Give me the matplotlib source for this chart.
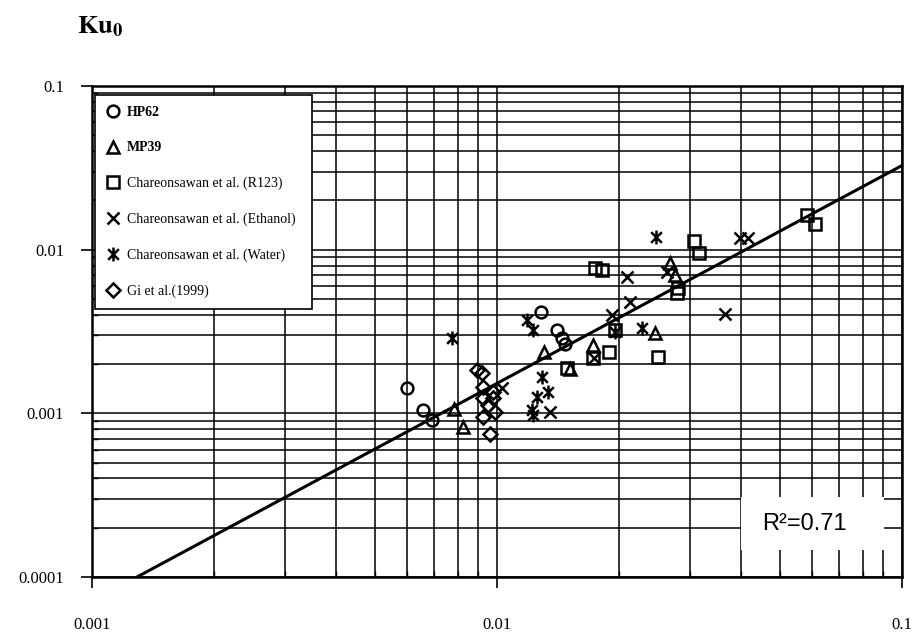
#!/usr/bin/env python3
"""Ku0 comparison: measured data vs correlation, log-log."""

import matplotlib
matplotlib.use("Agg")
import matplotlib.pyplot as plt
import numpy as np
from matplotlib.patches import Rectangle
from matplotlib.path import Path
from matplotlib.ticker import FixedLocator, FixedFormatter, NullFormatter

plt.rcParams["mathtext.fontset"] = "stix"

# --- data ---
hp62_x = [0.00600, 0.00657, 0.00691, 0.01284, 0.01406, 0.01447, 0.01472]
hp62_y = [0.001423, 0.001043, 0.000906, 0.004165, 0.003229, 0.002885, 0.002651]

mp39_x = [0.00783, 0.00824, 0.01306, 0.01514, 0.01726, 0.02455, 0.02674, 0.02751]
mp39_y = [0.001058, 0.000820, 0.002366, 0.001862, 0.002614, 0.003096, 0.008321, 0.007025]

r123_x = [0.01489, 0.01746, 0.01817, 0.01956, 0.01890, 0.01726, 0.02496,
          0.02798, 0.02782, 0.03064, 0.03153, 0.05827, 0.06099]
r123_y = [0.001888, 0.007756, 0.007540, 0.003229, 0.002366, 0.002175, 0.002206,
          0.005845, 0.005448, 0.01135, 0.009585, 0.01640, 0.01443]

ethanol_x = [0.01029, 0.01352, 0.01736, 0.01923, 0.02094, 0.02130, 0.02629,
             0.03656, 0.03981, 0.04167]
ethanol_y = [0.001423, 0.001014, 0.002175, 0.003993, 0.006830, 0.004797, 0.007328,
             0.004050, 0.01185, 0.01185]

water_x = [0.00774, 0.01186, 0.01227, 0.01291, 0.01336, 0.01256, 0.01220,
           0.01227, 0.01956, 0.02280, 0.02469]
water_y = [0.002885, 0.003721, 0.003229, 0.001663, 0.001345, 0.001253, 0.001043,
           0.000972, 0.003140, 0.003322, 0.01202]

gi_x = [0.00893, 0.00918, 0.00923, 0.00977, 0.00923, 0.00977, 0.00950,
        0.00989, 0.00923, 0.00961]
gi_y = [0.001835, 0.001759, 0.001443, 0.001345, 0.001236, 0.001236, 0.001120,
        0.001014, 0.000945, 0.000743]

# correlation line Ku0 = a * x^b
fit_a = 0.70
fit_b = 1.331
r2_text = "R\u00b2=0.71"

xtick_vals = [0.001, 0.01, 0.1]
xtick_labels = ["0.001", "0.01", "0.1"]
ytick_vals = [0.0001, 0.001, 0.01, 0.1]
ytick_labels = ["0.0001", "0.001", "0.01", "0.1"]

labels = ["HP62", "MP39", "Chareonsawan et al. (R123)",
          "Chareonsawan et al. (Ethanol)", "Chareonsawan et al. (Water)",
          "Gi et al.(1999)"]

# X with a vertical bar (spreadsheet "star" marker)
M, L = Path.MOVETO, Path.LINETO
star_marker = Path([(-1, -1), (1, 1), (-1, 1), (1, -1), (0, -1.3), (0, 1.3)],
                   [M, L, M, L, M, L])

fig = plt.figure(figsize=(9.16, 6.37), dpi=100)
ax = fig.add_axes([92 / 916, 60 / 637, 810 / 916, 491 / 637])
ax.set_xscale("log")
ax.set_yscale("log")
ax.set_xlim(1e-3, 1e-1)
ax.set_ylim(1e-4, 1e-1)

style = dict(linestyle="none", mfc="none", mec="black", mew=1.8, zorder=4)
ax.plot(hp62_x, hp62_y, marker="o", ms=8.5, label=labels[0], **style)
ax.plot(mp39_x, mp39_y, marker="^", ms=8.5, label=labels[1], **style)
ax.plot(r123_x, r123_y, marker="s", ms=8, label=labels[2], **style)
ax.plot(ethanol_x, ethanol_y, marker="x", ms=9, label=labels[3], **style)
ax.plot(water_x, water_y, marker=star_marker, ms=10, label=labels[4], **style)
ax.plot(gi_x, gi_y, marker="D", ms=7, label=labels[5], **style)

xf = np.logspace(-3, -1, 100)
ax.plot(xf, fit_a * xf ** fit_b, color="black", lw=2.2, zorder=3)

ax.grid(True, which="both", color="black", lw=1.1)
ax.set_axisbelow(True)
for sp in ax.spines.values():
    sp.set_linewidth(1.8)

ax.xaxis.set_major_locator(FixedLocator(xtick_vals))
ax.xaxis.set_major_formatter(FixedFormatter(xtick_labels))
ax.yaxis.set_major_locator(FixedLocator(ytick_vals))
ax.yaxis.set_major_formatter(FixedFormatter(ytick_labels))
ax.xaxis.set_minor_formatter(NullFormatter())
ax.yaxis.set_minor_formatter(NullFormatter())
ax.tick_params(axis="x", which="major", direction="out", length=8, pad=21,
               labelsize=12, width=1.2)
ax.tick_params(axis="y", which="major", direction="out", length=8, pad=12,
               labelsize=12, width=1.2)
ax.tick_params(which="minor", direction="in", length=4, width=1.0)
for lab in ax.get_xticklabels() + ax.get_yticklabels():
    lab.set_family("Liberation Serif")

# R^2 box
ax.add_patch(Rectangle((0.801, 0.055), 0.177, 0.108, transform=ax.transAxes,
                       facecolor="white", edgecolor="none", zorder=2.5))
ax.text(0.880, 0.108, r2_text, transform=ax.transAxes, ha="center", va="center",
        fontsize=17, family="Liberation Sans", zorder=5)

leg = ax.legend(loc="upper left", bbox_to_anchor=(0.004, 0.0, 0.267, 0.982),
                mode="expand", borderaxespad=0, fancybox=False, framealpha=1,
                edgecolor="black", prop={"family": "Liberation Serif", "size": 10},
                labelspacing=1.62, handlelength=1.0, handletextpad=0.5,
                borderpad=0.8)
leg.get_frame().set_linewidth(1.2)
leg.set_zorder(6)
for t in leg.get_texts()[:2]:
    t.set_fontweight("bold")

fig.text(77 / 916, 1 - 33 / 637, r"$\mathbf{Ku_0}$", fontsize=19,
         ha="left", va="baseline")

fig.savefig("out.png", dpi=100)
plt.close(fig)
